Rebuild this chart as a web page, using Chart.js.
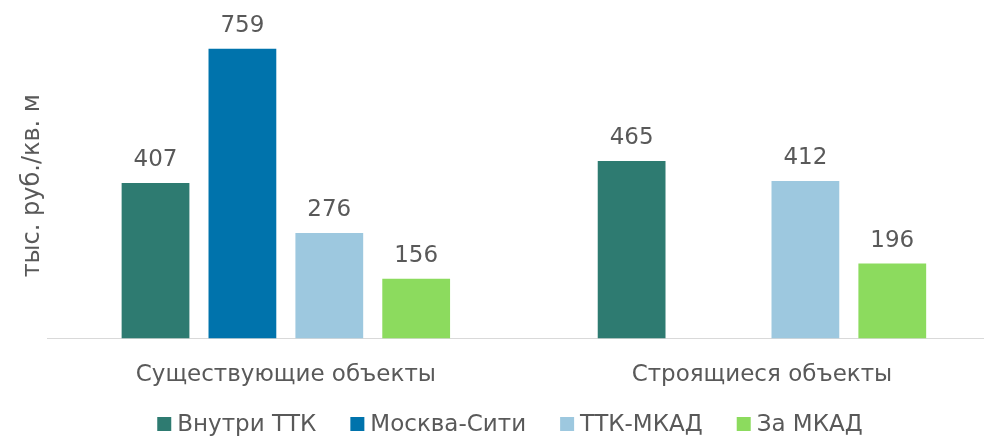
<!DOCTYPE html>
<html>
<head>
<meta charset="utf-8">
<script src="https://cdn.jsdelivr.net/npm/chart.js@4"></script>
<style>
  html, body { margin: 0; padding: 0; background: #fff; overflow: hidden; }
  #wrap { width: 1020px; height: 436px; position: relative; }
</style>
</head>
<body>
<div id="wrap"><canvas id="chart"></canvas></div>
<script>
// categories and series
const categories = ['Существующие объекты', 'Строящиеся объекты'];
const seriesNames = ['Внутри ТТК', 'Москва-Сити', 'ТТК-МКАД', 'За МКАД'];
const insideTTK = [407, 465];
const moscowCity = [759, null];
const ttkMkad = [276, 412];
const outsideMkad = [156, 196];
const colors = ['#2E7B71', '#0073AC', '#9DC8DF', '#8CDB5E'];

const textColor = '#595959';
const fontFamily = '"DejaVu Sans", Verdana, sans-serif';
const fontSize = 23;

// value labels above each bar
const valueLabels = {
  id: 'valueLabels',
  afterDatasetsDraw(chart) {
    const ctx = chart.ctx;
    ctx.save();
    ctx.fillStyle = textColor;
    ctx.font = fontSize + 'px ' + fontFamily;
    ctx.textAlign = 'center';
    ctx.textBaseline = 'alphabetic';
    chart.data.datasets.forEach((ds, i) => {
      chart.getDatasetMeta(i).data.forEach((bar, j) => {
        const v = ds.data[j];
        if (v == null) return;
        ctx.fillText(String(v), bar.x, bar.y - 17);
      });
    });
    ctx.restore();
  }
};

// legend in the bottom strip, Excel-like spacing
const bottomLegend = {
  id: 'bottomLegend',
  afterDraw(chart) {
    const ctx = chart.ctx;
    const box = 14, gap = 6, spacing = 34, cy = 424, cx = 510;
    ctx.save();
    ctx.font = fontSize + 'px ' + fontFamily;
    ctx.textBaseline = 'middle';
    ctx.textAlign = 'left';
    const items = chart.data.datasets.map(ds => ({
      text: ds.label, color: ds.backgroundColor, w: ctx.measureText(ds.label).width
    }));
    let total = items.reduce((s, it) => s + box + gap + it.w, 0) + spacing * (items.length - 1);
    let x = cx - total / 2;
    items.forEach(it => {
      ctx.fillStyle = it.color;
      ctx.fillRect(x, cy - box / 2, box, box);
      ctx.fillStyle = textColor;
      ctx.fillText(it.text, x + box + gap, cy + 1);
      x += box + gap + it.w + spacing;
    });
    ctx.restore();
  }
};

new Chart(document.getElementById('chart'), {
  type: 'bar',
  data: {
    labels: categories,
    datasets: [insideTTK, moscowCity, ttkMkad, outsideMkad].map((d, i) => ({
      label: seriesNames[i],
      data: d,
      backgroundColor: colors[i],
      borderWidth: 0,
      barPercentage: 0.78,
      categoryPercentage: 0.73
    }))
  },
  options: {
    responsive: true,
    maintainAspectRatio: false,
    animation: false,
    layout: { padding: { top: 33, right: 20, left: 18, bottom: 24 } },
    scales: {
      x: {
        grid: { display: false, drawTicks: false },
        border: { color: '#D9D9D9', width: 1 },
        ticks: { color: textColor, font: { family: fontFamily, size: fontSize }, padding: 23 }
      },
      y: {
        min: 0,
        max: 800,
        grid: { display: false, drawTicks: false },
        border: { display: false },
        ticks: { display: false },
        title: {
          display: true,
          text: 'тыс. руб./кв. м',
          color: textColor,
          font: { family: fontFamily, size: 24 },
          padding: { top: 0, bottom: 1 }
        }
      }
    },
    plugins: {
      legend: { display: false },
      tooltip: { enabled: false }
    }
  },
  plugins: [valueLabels, bottomLegend]
});
</script>
</body>
</html>
